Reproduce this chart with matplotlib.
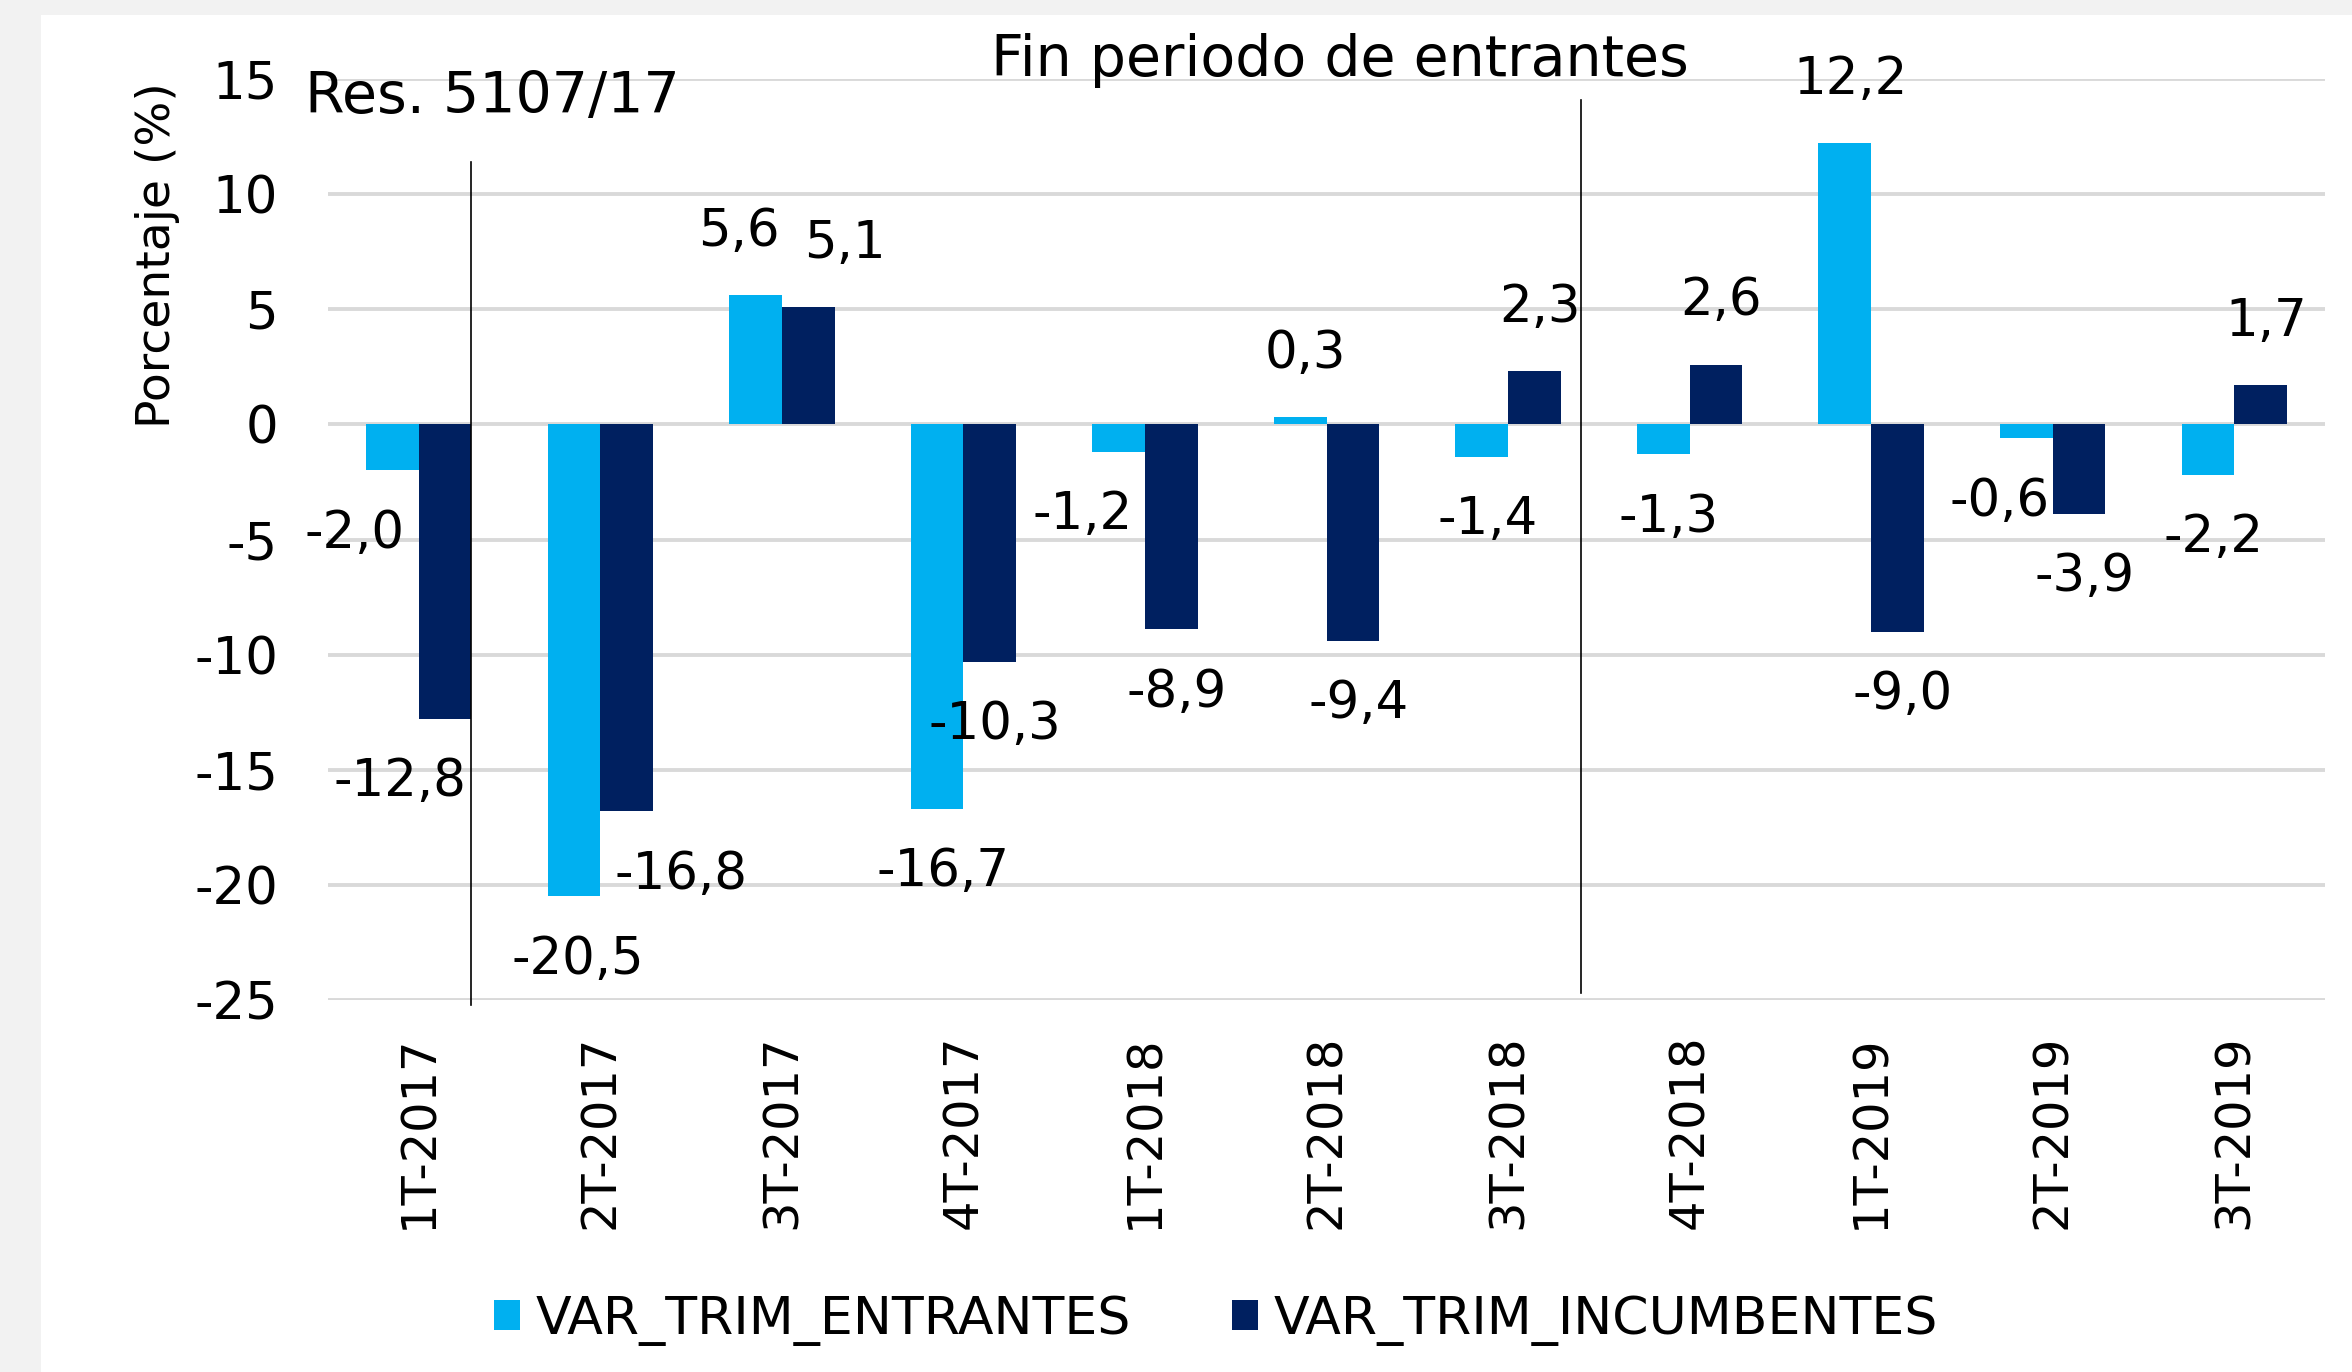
import numpy as np
import matplotlib
matplotlib.use('Agg')
import matplotlib.pyplot as plt
from matplotlib.patches import Rectangle

# Data
periodos = ['1T-2017', '2T-2017', '3T-2017', '4T-2017', '1T-2018', '2T-2018',
            '3T-2018', '4T-2018', '1T-2019', '2T-2019', '3T-2019']
entrantes = [-2.0, -20.5, 5.6, -16.7, -1.2, 0.3, -1.4, -1.3, 12.2, -0.6, -2.2]
incumbentes = [-12.8, -16.8, 5.1, -10.3, -8.9, -9.4, 2.3, 2.6, -9.0, -3.9, 1.7]
y_ticks = [-25, -20, -15, -10, -5, 0, 5, 10, 15]

# Label offsets (data units) where the labels were nudged by hand
dx_ent = [-0.21, 0.02, -0.09, 0.03, -0.20, 0.03, 0.03, 0.03, 0.03, -0.15, 0.03]
dx_inc = [-0.25, 0.30, 0.20, 0.03, 0.03, 0.03, 0.03, 0.03, 0.03, 0.03, 0.03]
dy_lab = 2.75

c_ent = '#00B0F0'
c_inc = '#002060'
fs = 37

plt.rcParams['font.family'] = ['DejaVu Sans']

fig = plt.figure(figsize=(23.52, 13.72), dpi=100, facecolor='#F2F2F2')
fig.patches.append(Rectangle((41 / 2352, 0), 1, 1 - 15 / 1372, transform=fig.transFigure,
                             facecolor='white', edgecolor='none', zorder=-10))

ax = fig.add_axes([328 / 2352, 1 - 1000 / 1372, (2325 - 328) / 2352, (1000 - 79) / 1372])
ax.set_facecolor('none')

x = np.arange(len(periodos))
w = 0.29
ax.bar(x - w / 2, entrantes, w, color=c_ent, label='VAR_TRIM_ENTRANTES', zorder=3)
ax.bar(x + w / 2, incumbentes, w, color=c_inc, label='VAR_TRIM_INCUMBENTES', zorder=3)

def fmt(v):
    return f'{v:.1f}'.replace('.', ',')

for i in range(len(periodos)):
    for v, xc, dx in ((entrantes[i], x[i] - w / 2, dx_ent[i]), (incumbentes[i], x[i] + w / 2, dx_inc[i])):
        y = v + (dy_lab if v >= 0 else -dy_lab)
        ax.text(xc + dx, y, fmt(v), ha='center', va='center', fontsize=fs, zorder=4)

ax.set_xlim(-0.5, len(periodos) - 0.5)
ax.set_ylim(-25, 15)
ax.set_yticks(y_ticks)
ax.set_yticklabels([str(t) for t in y_ticks], fontsize=fs)
ax.set_xticks(x)
ax.set_xticklabels(periodos, rotation=90, fontsize=34.5)
ax.tick_params(axis='y', length=0, pad=36)
ax.tick_params(axis='x', length=0, pad=25)
ax.yaxis.grid(True, color='#D9D9D9', linewidth=2.8, zorder=0)
ax.set_axisbelow(True)
for s in ax.spines.values():
    s.set_visible(False)

# Separator lines and notes
ax.plot([0.29, 0.29], [-25.2, 11.4], color='black', linewidth=1.2, clip_on=False, zorder=5)
ax.plot([6.4, 6.4], [-24.7, 14.1], color='black', linewidth=1.2, clip_on=False, zorder=5)
fig.text(305 / 2352, 1 - 97 / 1372, 'Res. 5107/17', fontsize=41, ha='left', va='center')
fig.text(1340 / 2352, 1 - 60 / 1372, 'Fin periodo de entrantes', fontsize=41, ha='center', va='center')
fig.text(157 / 2352, 1 - 255 / 1372, 'Porcentaje (%)', fontsize=34, rotation=90, ha='center', va='center')

fig.legend(loc='center', bbox_to_anchor=(1216 / 2352, 1 - 1320 / 1372), ncol=2, frameon=False,
           fontsize=37.5, handlelength=0.5, handleheight=0.5, handletextpad=0.3, columnspacing=1.95)

fig.savefig('out.png', dpi=100, facecolor=fig.get_facecolor())
